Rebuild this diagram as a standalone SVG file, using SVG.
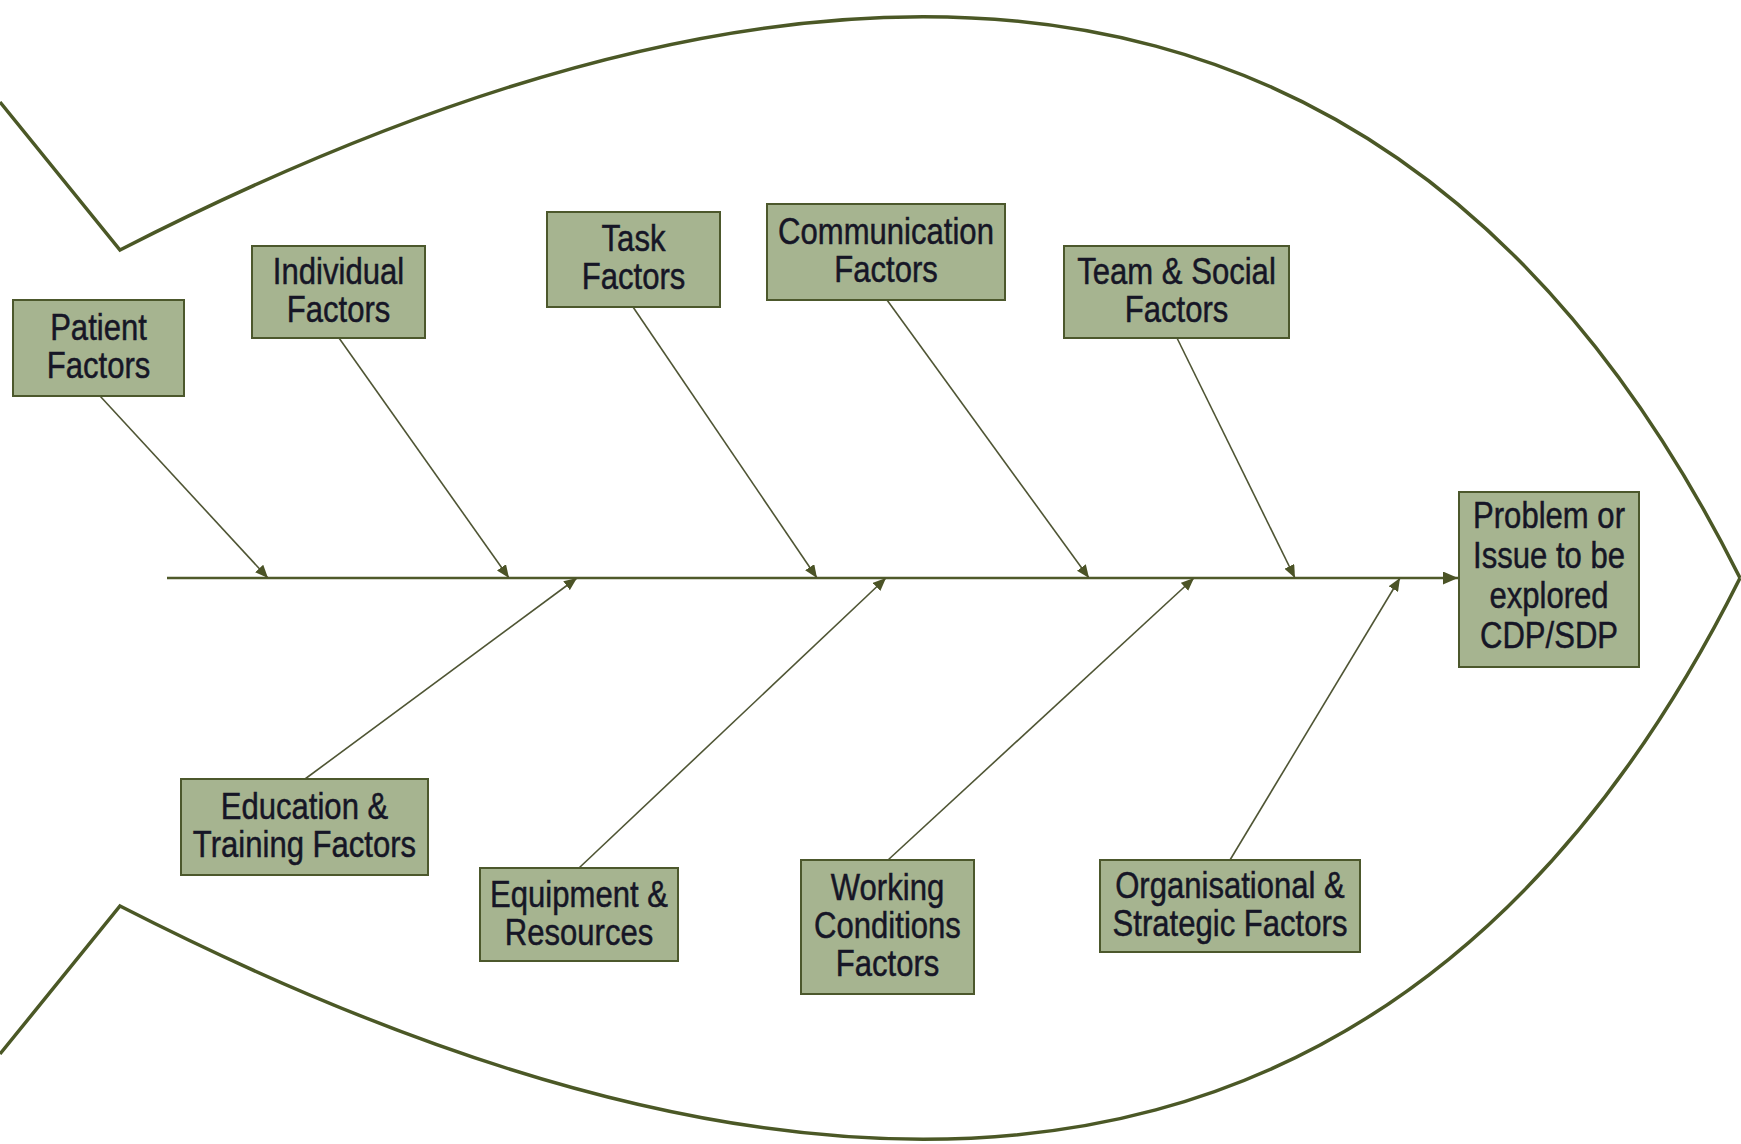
<svg xmlns="http://www.w3.org/2000/svg" width="1741" height="1144" viewBox="0 0 1741 1144">
<style>
.fish{fill:none;stroke:#4b5826;stroke-width:3.5;stroke-linejoin:miter}
.spine{fill:none;stroke:#4f5a2a;stroke-width:2.5}
.bone{fill:none;stroke:#4f5534;stroke-width:1.6}
.box{fill:#a6b490;stroke:#4c582c;stroke-width:2}
.lbl{font-family:"Liberation Sans",Arial,sans-serif;font-size:37px;fill:#161626;stroke:#161626;stroke-width:0.5;text-anchor:middle}
</style>
<defs>
<marker id="ah" markerUnits="userSpaceOnUse" viewBox="0 0 13 11" markerWidth="13" markerHeight="11" refX="13" refY="5.5" orient="auto">
<path d="M0,0 L13,5.5 L0,11 z" fill="#4b5326"/>
</marker>
<marker id="ahBig" markerUnits="userSpaceOnUse" viewBox="0 0 15 13" markerWidth="15" markerHeight="13" refX="15" refY="6.5" orient="auto">
<path d="M0,0 L15,6.5 L0,13 z" fill="#4b5326"/>
</marker>
</defs>
<rect width="1741" height="1144" fill="#ffffff"/>
<g id="fish-outline">
<path class="fish" d="M0,102 L120,250 C990,-195 1472,42 1740,578"/>
<path class="fish" d="M0,1054 L120,906 C990,1351 1472,1114 1740,578"/>
</g>
<g id="connectors">
<line class="spine" x1="167" y1="578" x2="1458" y2="578" marker-end="url(#ahBig)"/>
<line class="bone" x1="100" y1="396" x2="268" y2="578" marker-end="url(#ah)"/>
<line class="bone" x1="339" y1="338" x2="509" y2="578" marker-end="url(#ah)"/>
<line class="bone" x1="633" y1="307" x2="817" y2="578" marker-end="url(#ah)"/>
<line class="bone" x1="887" y1="300" x2="1089" y2="578" marker-end="url(#ah)"/>
<line class="bone" x1="1177" y1="338" x2="1295" y2="578" marker-end="url(#ah)"/>
<line class="bone" x1="305" y1="779" x2="577" y2="578" marker-end="url(#ah)"/>
<line class="bone" x1="579" y1="868" x2="886" y2="578" marker-end="url(#ah)"/>
<line class="bone" x1="888" y1="860" x2="1194" y2="578" marker-end="url(#ah)"/>
<line class="bone" x1="1230" y1="860" x2="1400" y2="578" marker-end="url(#ah)"/>
</g>
<g id="patient">
<rect class="box" x="13" y="300" width="171" height="96"/>
<g transform="matrix(0.84,0,0,1,98.5,0)">
<text class="lbl" x="0" y="340">Patient</text>
<text class="lbl" x="0" y="378">Factors</text>
</g>
</g>
<g id="individual">
<rect class="box" x="252" y="246" width="173" height="92"/>
<g transform="matrix(0.84,0,0,1,338.5,0)">
<text class="lbl" x="0" y="284">Individual</text>
<text class="lbl" x="0" y="322">Factors</text>
</g>
</g>
<g id="task">
<rect class="box" x="547" y="212" width="173" height="95"/>
<g transform="matrix(0.84,0,0,1,633.5,0)">
<text class="lbl" x="0" y="251">Task</text>
<text class="lbl" x="0" y="289">Factors</text>
</g>
</g>
<g id="communication">
<rect class="box" x="767" y="204" width="238" height="96"/>
<g transform="matrix(0.84,0,0,1,886,0)">
<text class="lbl" x="0" y="244">Communication</text>
<text class="lbl" x="0" y="282">Factors</text>
</g>
</g>
<g id="team-social">
<rect class="box" x="1064" y="246" width="225" height="92"/>
<g transform="matrix(0.84,0,0,1,1176.5,0)">
<text class="lbl" x="0" y="284">Team &amp; Social</text>
<text class="lbl" x="0" y="322">Factors</text>
</g>
</g>
<g id="problem">
<rect class="box" x="1459" y="492" width="180" height="175"/>
<g transform="matrix(0.84,0,0,1,1549,0)">
<text class="lbl" x="0" y="528">Problem or</text>
<text class="lbl" x="0" y="568">Issue to be</text>
<text class="lbl" x="0" y="608">explored</text>
<text class="lbl" x="0" y="648">CDP/SDP</text>
</g>
</g>
<g id="education">
<rect class="box" x="181" y="779" width="247" height="96"/>
<g transform="matrix(0.84,0,0,1,304.5,0)">
<text class="lbl" x="0" y="819">Education &amp;</text>
<text class="lbl" x="0" y="857">Training Factors</text>
</g>
</g>
<g id="equipment">
<rect class="box" x="480" y="868" width="198" height="93"/>
<g transform="matrix(0.84,0,0,1,579,0)">
<text class="lbl" x="0" y="907">Equipment &amp;</text>
<text class="lbl" x="0" y="945">Resources</text>
</g>
</g>
<g id="working">
<rect class="box" x="801" y="860" width="173" height="134"/>
<g transform="matrix(0.84,0,0,1,887.5,0)">
<text class="lbl" x="0" y="900">Working</text>
<text class="lbl" x="0" y="938">Conditions</text>
<text class="lbl" x="0" y="976">Factors</text>
</g>
</g>
<g id="organisational">
<rect class="box" x="1100" y="860" width="260" height="92"/>
<g transform="matrix(0.84,0,0,1,1230,0)">
<text class="lbl" x="0" y="898">Organisational &amp;</text>
<text class="lbl" x="0" y="936">Strategic Factors</text>
</g>
</g>
</svg>
